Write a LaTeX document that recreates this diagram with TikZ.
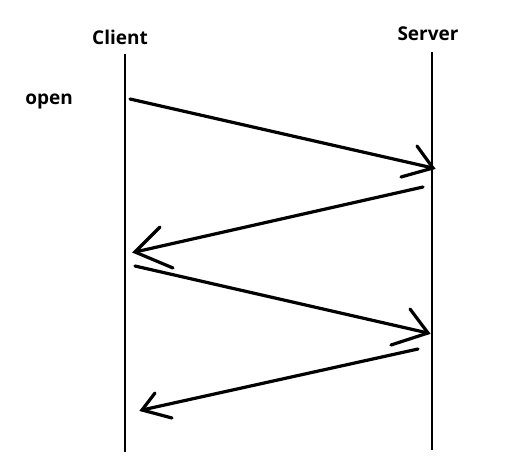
\documentclass[tikz,border=0pt]{standalone}
\usepackage{fontspec}
\setmainfont{Open Sans}
\begin{document}
\begin{tikzpicture}[x=1pt,y=-1pt,
  lifeline/.style={line width=2.8pt},
  msg/.style={line width=3.2pt,line cap=round},
  headstroke/.style={line width=3.2pt,line cap=round},
  lbl/.style={font=\fontsize{19}{22}\selectfont\bfseries,inner sep=0pt}]
\useasboundingbox[fill=white] (0,0) rectangle (525,474);
% labels
\node[lbl] (client) at (120,37) {Client};
\node[lbl] (server) at (428,34) {Server};
\node[lbl] (open) at (49,101) {open};
% lifelines
\coordinate (ctop) at (125,54);
\coordinate (cbot) at (125,452);
\coordinate (stop) at (432,52);
\coordinate (sbot) at (432,450);
\draw[lifeline] (ctop) -- (cbot);
\draw[lifeline] (stop) -- (sbot);
% message 1
\coordinate (m1s) at (130,99);
\coordinate (m1e) at (433,168);
\coordinate (m1a) at (417,146);
\coordinate (m1b) at (401,177);
\draw[msg] (m1s) -- (m1e);
\draw[headstroke] (m1a) -- (m1e) -- (m1b);
% message 2
\coordinate (m2s) at (423,187);
\coordinate (m2e) at (135,252);
\coordinate (m2a) at (160,227);
\coordinate (m2b) at (173,268);
\draw[msg] (m2s) -- (m2e);
\draw[headstroke] (m2a) -- (m2e) -- (m2b);
% message 3
\coordinate (m3s) at (135,266);
\coordinate (m3e) at (428,333);
\coordinate (m3a) at (410,309);
\coordinate (m3b) at (391,345);
\draw[msg] (m3s) -- (m3e);
\draw[headstroke] (m3a) -- (m3e) -- (m3b);
% message 4
\coordinate (m4s) at (418,349);
\coordinate (m4e) at (142,410);
\coordinate (m4a) at (155,393);
\coordinate (m4b) at (172,418);
\draw[msg] (m4s) -- (m4e);
\draw[headstroke] (m4a) -- (m4e) -- (m4b);
\end{tikzpicture}
\end{document}
